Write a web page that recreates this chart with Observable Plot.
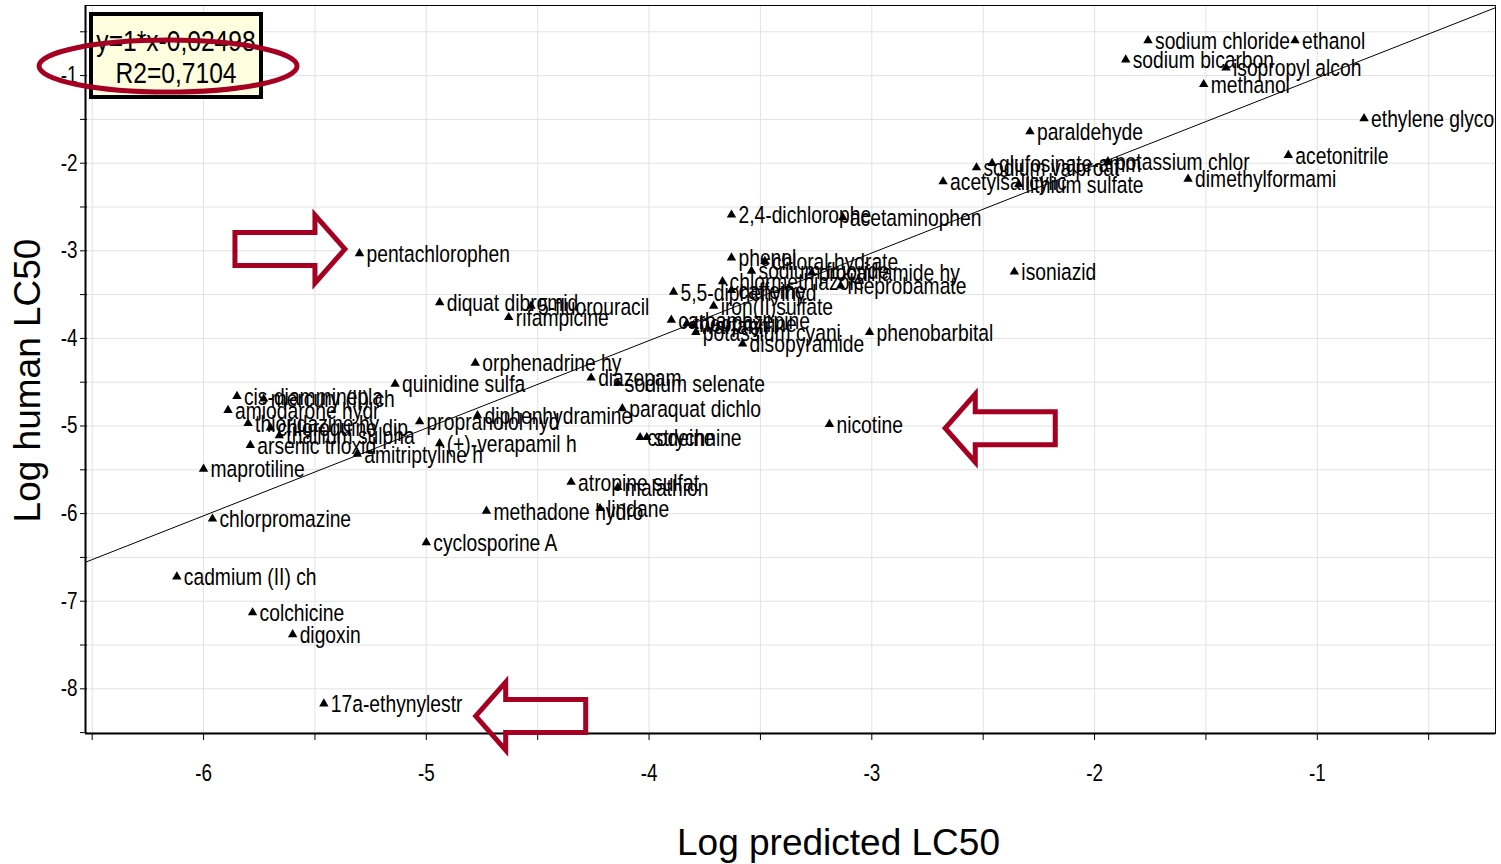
<!DOCTYPE html>
<html>
<head>
<meta charset="utf-8">
<script src="https://cdn.jsdelivr.net/npm/d3@7"></script>
<script src="https://cdn.jsdelivr.net/npm/@observablehq/plot@0.6"></script>
<style>
  html, body { margin: 0; padding: 0; background: #fff; }
  #chart svg { display: block; }
</style>
</head>
<body>
<div id="chart"></div>
<script>
// ---- data ----
const names = [
  "sodium chloride", "ethanol", "sodium bicarbon", "isopropyl alcoh", "methanol",
  "ethylene glycol", "paraldehyde", "acetonitrile", "potassium chlor", "dimethylformami",
  "sodium valproat", "glufosinate-amm", "acetylsalicylic", "lithium sulfate",
  "2,4-dichlorophe", "acetaminophen", "pentachlorophen", "isoniazid",
  "phenol", "chloral hydrate", "sodium fluoride", "procainamide hy", "chlormethiazole",
  "meprobamate", "caffeine", "5,5-diphenylhyd", "iron(II)sulfate", "carbamazepine",
  "theophylline", "warfarin", "potassium cyani", "disopyramide", "phenobarbital",
  "diquat dibromid", "5-fluorouracil", "rifampicine", "orphenadrine hy", "quinidine sulfa",
  "diazepam", "sodium selenate", "paraquat dichlo", "codeine", "strychnine", "nicotine",
  "cis-diamminepla", "mercury (II) ch", "amiodarone hydr", "thioridazine hy", "chloroquine dip",
  "thallium sulpha", "arsenic trioxid", "amitriptyline h", "propranolol hyd", "diphenhydramine",
  "(+)-verapamil h", "maprotiline", "chlorpromazine", "atropine sulfat", "malathion",
  "methadone hydro", "lindane", "cyclosporine A", "cadmium (II) ch", "colchicine",
  "digoxin", "17a-ethynylestr"
];
const predicted = [
  -1.76, -1.10, -1.86, -1.41, -1.51,
  -0.79, -2.29, -1.13, -1.94, -1.58,
  -2.53, -2.46, -2.68, -2.34,
  -3.63, -3.13, -5.30, -2.36,
  -3.63, -3.48, -3.54, -3.27, -3.67,
  -3.14, -3.63, -3.89, -3.71, -3.90,
  -3.83, -3.80, -3.79, -3.58, -3.01,
  -4.94, -4.53, -4.63, -4.78, -5.14,
  -4.26, -4.14, -4.12, -4.04, -4.01, -3.19,
  -5.85, -5.73, -5.89, -5.80, -5.70,
  -5.66, -5.79, -5.31, -5.03, -4.77,
  -4.94, -6.00, -5.96, -4.35, -4.14,
  -4.73, -4.22, -5.00, -6.12, -5.78,
  -5.60, -5.46
];
const human = [
  -0.60, -0.60, -0.82, -0.91, -1.10,
  -1.49, -1.64, -1.91, -1.98, -2.18,
  -2.05, -2.00, -2.21, -2.24,
  -2.59, -2.62, -3.03, -3.24,
  -3.08, -3.12, -3.23, -3.25, -3.35,
  -3.40, -3.45, -3.47, -3.63, -3.79,
  -3.83, -3.85, -3.93, -4.06, -3.93,
  -3.59, -3.63, -3.76, -4.28, -4.52,
  -4.45, -4.51, -4.80, -5.13, -5.13, -4.98,
  -4.66, -4.69, -4.82, -4.97, -5.02,
  -5.11, -5.22, -5.32, -4.95, -4.88,
  -5.20, -5.49, -6.06, -5.64, -5.70,
  -5.97, -5.94, -6.33, -6.72, -7.13,
  -7.38, -8.17
];
const fitSlope = 1;
const fitIntercept = -0.02498;
const fitR2 = "0,7104";
const fitLabel = "y=1*x-0,02498";
const xTicks = [-6.5, -6, -5.5, -5, -4.5, -4, -3.5, -3, -2.5, -2, -1.5, -1, -0.5];
const yTicks = [-8.5, -8, -7.5, -7, -6.5, -6, -5.5, -5, -4.5, -4, -3.5, -3, -2.5, -2, -1.5, -1, -0.5];
// annotation arrows: tip location (data units) and direction
const arrows = [
  {x: -5.363, y: -2.986, dir: 1},
  {x: -2.668, y: -5.030, dir: -1},
  {x: -4.776, y: -8.317, dir: -1}
];
// highlight ellipse around R2 (data units for center)
const ellipseCenter = {x: -6.157, y: -0.897};

const rows = names.map((n, i) => ({name: n, x: predicted[i], y: human[i]}));
const xDomain = [-6.53, -0.2];
const yDomain = [-8.51, -0.2];
const fitLine = xDomain.map(x => ({x, y: fitSlope * x + fitIntercept}));

const ARIAL = "'Liberation Sans', Arial, sans-serif";
const RED = "#a50021";
const SQUEEZE = 0.82; // Arial Narrow ≈ Arial condensed to 82 %
const LABEL_SIZE = 23.5;
const TICK_SIZE = 23;
const fmt = d => Number.isInteger(d) ? String(d) : "";

const annotations = (index, scales, values, dims) => {
  const g = d3.create("svg:g");
  // legend box
  const bx = dims.marginLeft + 6, by = dims.marginTop + 9;
  const box = g.append("g");
  box.append("rect").attr("x", bx).attr("y", by).attr("width", 170).attr("height", 83)
    .attr("fill", "#ffffe0").attr("stroke", "#000").attr("stroke-width", 4);
  [[fitLabel, 26], ["R2=" + fitR2, 58]].forEach(([t, off]) => {
    box.append("text")
      .attr("transform", `translate(${bx + 85},${by + off}) scale(${SQUEEZE},1)`)
      .attr("text-anchor", "middle").attr("dy", "0.35em")
      .attr("font-family", ARIAL).attr("font-size", 30).text(t);
  });
  // ellipse
  g.append("ellipse").attr("cx", scales.x(ellipseCenter.x)).attr("cy", scales.y(ellipseCenter.y))
    .attr("rx", 129).attr("ry", 26).attr("fill", "none").attr("stroke", RED).attr("stroke-width", 5);
  // arrows
  for (const a of arrows) {
    const tx = scales.x(a.x), ty = scales.y(a.y), d = a.dir;
    const L = 110, H = 30, hh = 34, bh = 16.5;
    const pts = [
      [tx, ty],
      [tx - d * H, ty - hh],
      [tx - d * H, ty - bh],
      [tx - d * L, ty - bh],
      [tx - d * L, ty + bh],
      [tx - d * H, ty + bh],
      [tx - d * H, ty + hh]
    ];
    g.append("polygon").attr("points", pts.map(p => p.join(",")).join(" "))
      .attr("fill", "none").attr("stroke", RED).attr("stroke-width", 5)
      .attr("stroke-linejoin", "miter");
  }
  return g.node();
};

const chart = Plot.plot({
  width: 1501,
  height: 864,
  marginLeft: 85,
  marginRight: 6,
  marginTop: 5,
  marginBottom: 131,
  style: {background: "#fff", overflow: "visible"},
  x: {domain: xDomain},
  y: {domain: yDomain},
  marks: [
    Plot.gridX(xTicks, {stroke: "#e2e2e2", strokeOpacity: 1}),
    Plot.gridY(yTicks, {stroke: "#e2e2e2", strokeOpacity: 1}),
    Plot.frame({stroke: "#000", strokeWidth: 1}),
    Plot.ruleX([xDomain[0]], {stroke: "#000", strokeWidth: 2}),
    Plot.ruleY([yDomain[0]], {stroke: "#000", strokeWidth: 2}),
    Plot.axisX({ticks: xTicks, tickFormat: fmt, tickSize: 7, tickPadding: 24, fontSize: TICK_SIZE, fontFamily: ARIAL, label: null}),
    Plot.axisY({ticks: yTicks, tickFormat: fmt, tickSize: 7, tickPadding: 3, dx: 2, fontSize: TICK_SIZE, fontFamily: ARIAL, label: null}),
    Plot.line(fitLine, {x: "x", y: "y", stroke: "#000", strokeWidth: 1, clip: true}),
    Plot.dot(rows, {x: "x", y: "y", symbol: "triangle", r: 3.5, fill: "#000", stroke: "none"}),
    Plot.text(rows, {x: "x", y: "y", text: "name", textAnchor: "start", dx: 7, dy: 1, fontSize: LABEL_SIZE, fontFamily: ARIAL, fill: "#000", lineAnchor: "middle", clip: true}),
    Plot.text(["Log predicted LC50"], {frameAnchor: "bottom", textAnchor: "middle", dx: 48, dy: 121, fontSize: 37, fontFamily: ARIAL, fill: "#000"}),
    Plot.text(["Log human LC50"], {frameAnchor: "left", textAnchor: "middle", dx: -57, dy: 11, rotate: -90, fontSize: 37, fontFamily: ARIAL, fill: "#000"}),
    annotations
  ]
});

// narrow typeface look: squeeze point labels and tick labels horizontally around their anchor
const squeezeTargets = [
  ...chart.querySelectorAll(`g[font-size="${LABEL_SIZE}"] text`),
  ...chart.querySelectorAll(`g[font-size="${TICK_SIZE}"] text`)
];
squeezeTargets.forEach(el => {
  const t = el.getAttribute("transform");
  const x = +(el.getAttribute("x") || 0);
  el.setAttribute("transform", (t ? t + " " : "") + `translate(${x},0) scale(${SQUEEZE},1) translate(${-x},0)`);
});

document.getElementById("chart").appendChild(chart);
</script>
</body>
</html>
